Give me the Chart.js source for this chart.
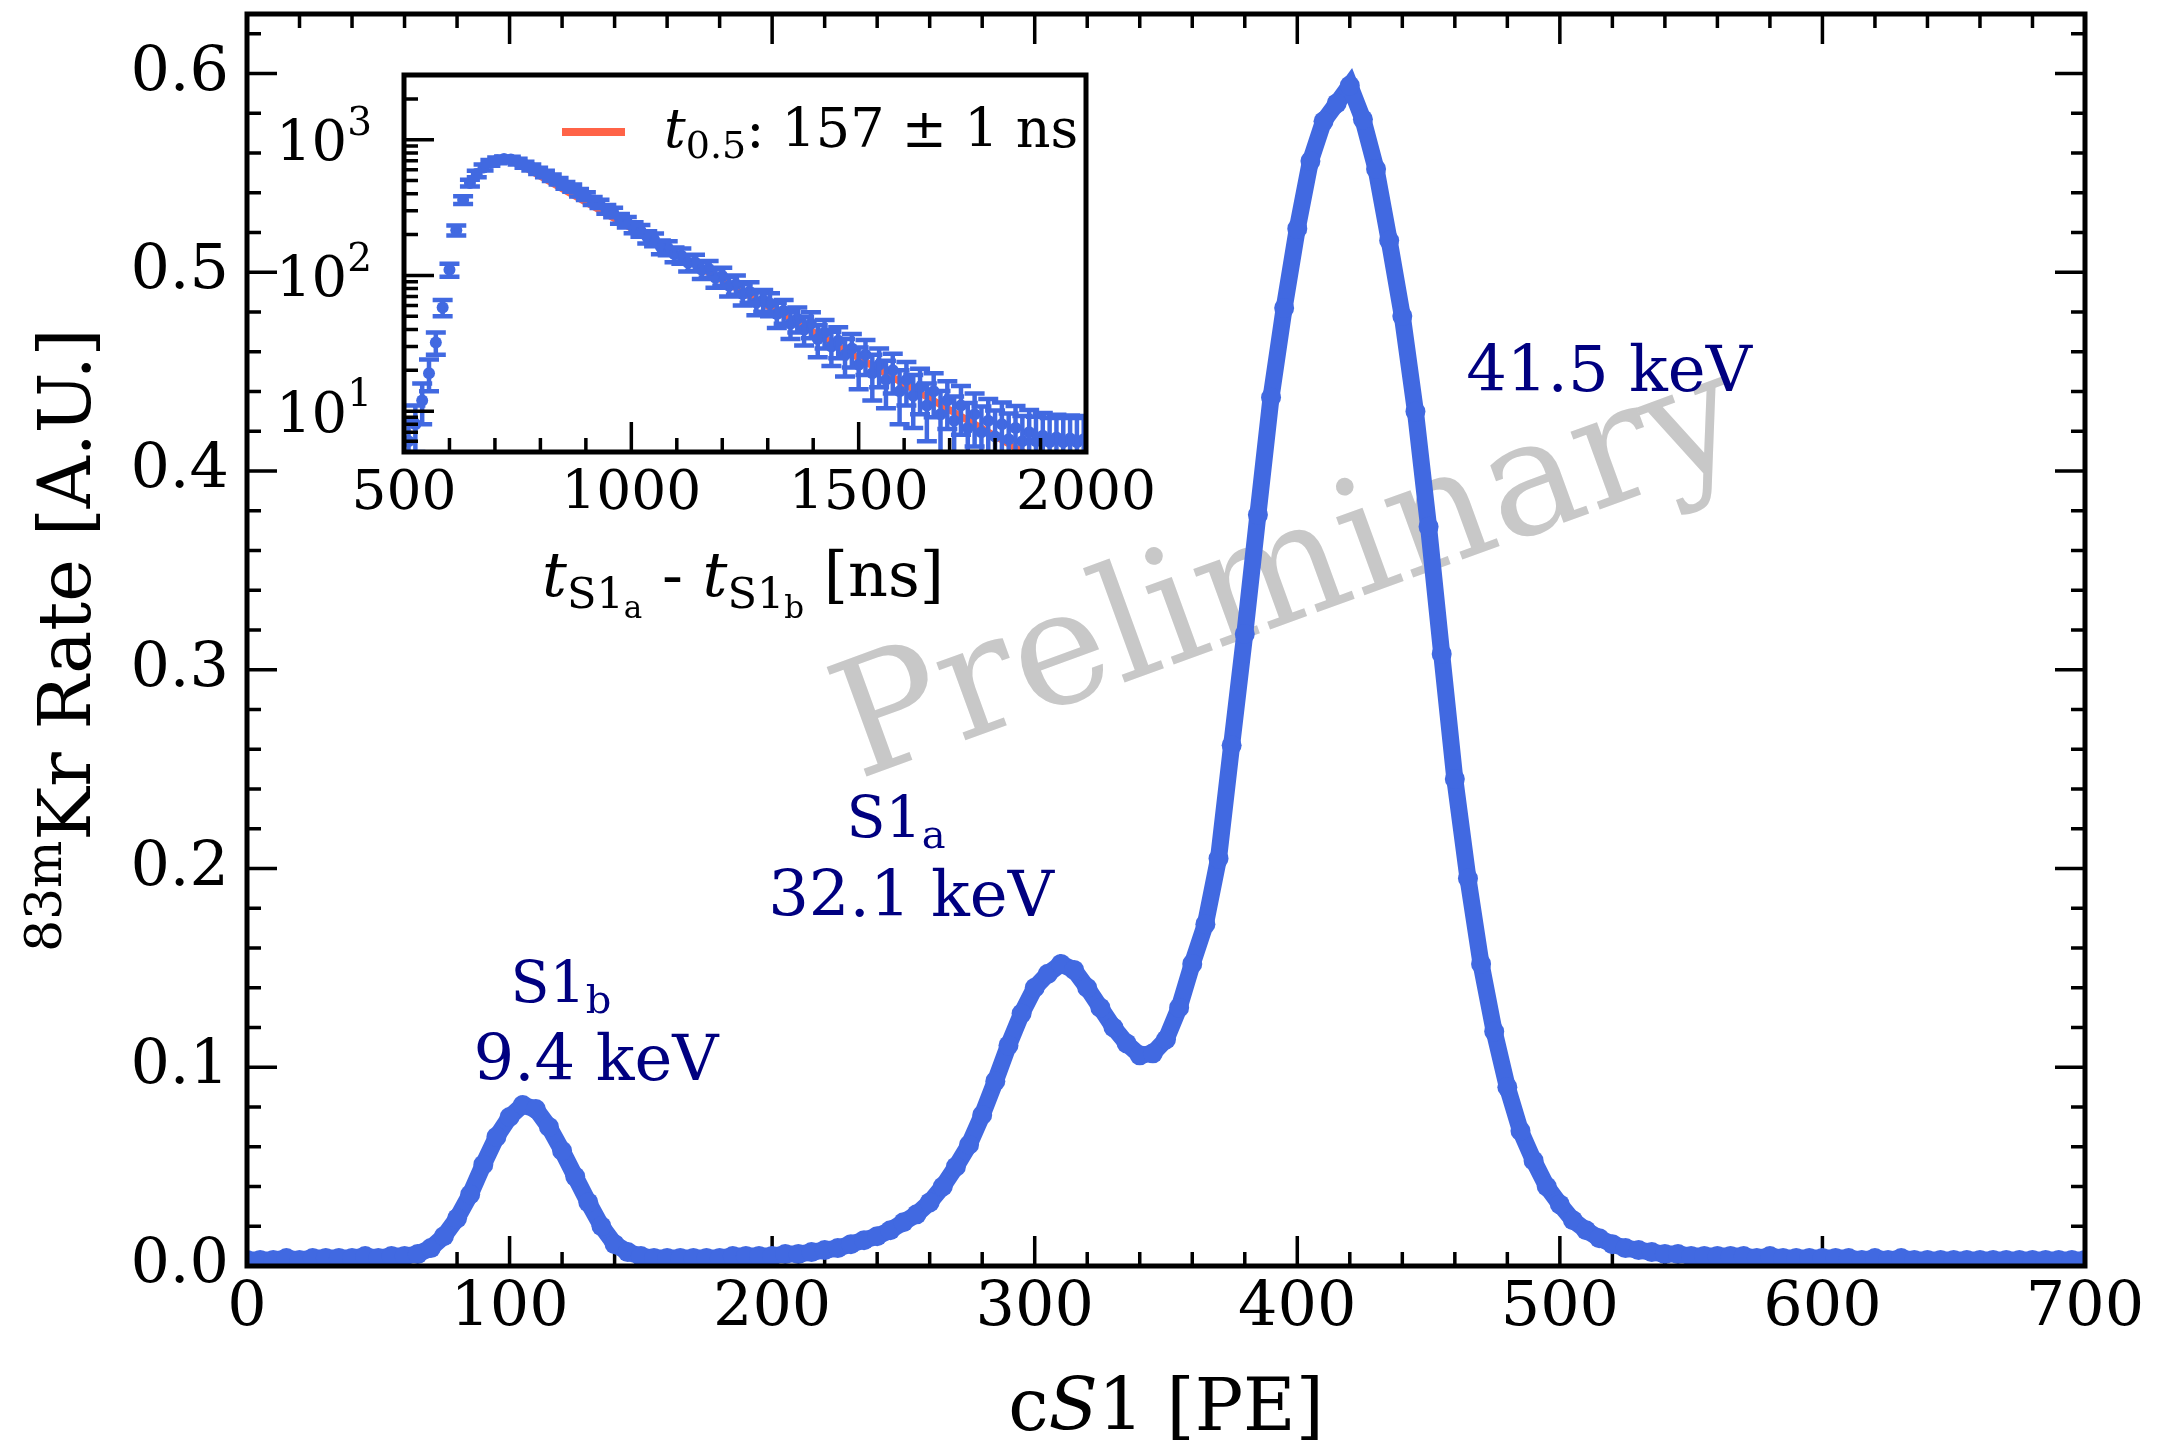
<!DOCTYPE html>
<html>
<head>
<meta charset="utf-8">
<script src="https://cdn.jsdelivr.net/npm/chart.js@4.4.1/dist/chart.umd.min.js"></script>
<style>
  html, body { margin: 0; padding: 0; background: #fff; }
  #wrap { position: relative; width: 2177px; height: 1454px; }
  #main { position: absolute; left: 0; top: 0; }
  #inset { position: absolute; left: 260px; top: 40px; }
</style>
</head>
<body>
<div id="wrap">
  <canvas id="main" width="2177" height="1454"></canvas>
  <canvas id="inset" width="940" height="600"></canvas>
</div>
<script>
// main spectrum: cS1 [PE] vs 83mKr rate [A.U.]
const cs1PE = [0,5,10,15,20,25,30,35,40,45,50,55,60,65,70,75,80,85,90,95,
  100,105,110,115,120,125,130,135,140,145,150,155,160,165,170,175,180,185,190,195,
  200,205,210,215,220,225,230,235,240,245,250,255,260,265,270,275,280,285,290,295,
  300,305,310,315,320,325,330,335,340,345,350,355,360,365,370,375,380,385,390,395,
  400,405,410,415,420,425,430,435,440,445,450,455,460,465,470,475,480,485,490,495,
  500,505,510,515,520,525,530,535,540,545,550,555,560,565,570,575,580,585,590,595,
  600,605,610,615,620,625,630,635,640,645,650,655,660,665,670,675,680,685,690,695,700];
const krRate = [0.003,0.003,0.003,0.004,0.003,0.004,0.004,0.004,0.004,0.005,0.004,0.005,0.005,0.006,0.009,0.015,0.024,0.036,0.051,0.065,
  0.075,0.081,0.079,0.070,0.058,0.045,0.032,0.020,0.011,0.007,0.005,0.004,0.004,0.004,0.004,0.004,0.004,0.005,0.005,0.005,
  0.005,0.006,0.006,0.007,0.008,0.009,0.011,0.013,0.015,0.018,0.022,0.026,0.032,0.040,0.050,0.061,0.076,0.093,0.111,0.127,
  0.140,0.147,0.152,0.149,0.140,0.130,0.120,0.112,0.106,0.107,0.114,0.130,0.152,0.172,0.205,0.262,0.318,0.378,0.437,0.482,
  0.522,0.556,0.576,0.585,0.594,0.577,0.552,0.516,0.478,0.430,0.372,0.308,0.245,0.195,0.152,0.118,0.090,0.068,0.053,0.040,
  0.031,0.023,0.018,0.014,0.011,0.009,0.008,0.007,0.006,0.006,0.005,0.005,0.005,0.005,0.005,0.004,0.005,0.004,0.004,0.004,
  0.004,0.004,0.004,0.003,0.004,0.003,0.004,0.003,0.003,0.003,0.003,0.003,0.003,0.003,0.003,0.003,0.003,0.003,0.003,0.003,0.003];

// inset: time difference between S1a and S1b
const dtNs = [510,525,540,555,570,585,600,615,630,645,660,675,690,705,720,735,750,765,780,795,
  810,825,840,855,870,885,900,915,930,945,960,975,990,1005,1020,1035,1050,1065,1080,1095,
  1110,1125,1140,1155,1170,1185,1200,1215,1230,1245,1260,1275,1290,1305,1320,1335,1350,1365,1380,1395,
  1410,1425,1440,1455,1470,1485,1500,1515,1530,1545,1560,1575,1590,1605,1620,1635,1650,1665,1680,1695,
  1710,1725,1740,1755,1770,1785,1800,1815,1830,1845,1860,1875,1890,1905,1920,1935,1950,1965,1980,1995];
const dtCounts = [6,8,12,19,32,58,110,215,360,480,560,625,675,705,720,715,690,655,625,590,
  560,525,495,462,440,408,385,355,338,308,292,262,248,226,214,192,184,162,160,143,
  140,124,125,110,112,96,99,84,86,73,76,63,66,62,52,55,44,48,40,44,
  34,38,30,33,26,29,22,26,19,22,17,20,14,17,13,15,11,14,9.5,12,
  8.5,11,7.5,9.5,7,8.5,6.5,8,6.2,7.5,6,7,6,6.6,5.9,6.4,5.9,6.3,5.9,6.2];
const dtErr = [2.5,3,4,5,6,8,12,18,24,28,30,32,33,34,34,34,33,33,32,31,
  30,29,28,27,27,26,25,24,24,23,23,22,22,21,21,20,20,19,19,18,
  18,17,17,16,16,15,15,14,14,13,13,12,12,12,11,11,10,10,9.5,9.5,
  9,9,8.5,8.5,8,8,7.5,7.5,7,7,6.5,6.5,6,6,5.5,5.5,5,5,4.6,4.6,
  4.3,4.3,4,4,3.8,3.8,3.6,3.6,3.4,3.4,3.2,3.2,3.1,3.1,3,3,3,3,3,3];
const fitNs = [760, 1000, 1250, 1500, 1750, 1880];
const fitCounts = [640, 223, 74, 24.7, 8.2, 4.6];

const blue = 'rgb(65,105,225)';
const red = 'rgb(255,99,71)';
const navy = '#000080';
const FONT = '"DejaVu Serif"';

function richText(ctx, parts, x, y, align, base) {
  // parts: [text, size factor, italic, vertical shift in em]
  const fontOf = p => (p[2] ? 'italic ' : '') + Math.round(base * p[1]) + 'px ' + FONT;
  let w = 0;
  parts.forEach(p => { ctx.font = fontOf(p); w += ctx.measureText(p[0]).width; });
  let cx = align === 'center' ? x - w / 2 : (align === 'right' ? x - w : x);
  ctx.textAlign = 'left';
  ctx.textBaseline = 'alphabetic';
  parts.forEach(p => {
    ctx.font = fontOf(p);
    ctx.fillText(p[0], cx, y + (p[3] || 0) * base);
    cx += ctx.measureText(p[0]).width;
  });
}

function tickList(from, to, step) {
  const out = [];
  for (let v = from; v <= to + step * 1e-6; v += step) out.push(+v.toFixed(6));
  return out;
}

function drawTicks(chart, spec) {
  const ctx = chart.ctx, a = chart.chartArea;
  const xs = chart.scales.x, ys = chart.scales.y;
  ctx.save();
  ctx.strokeStyle = '#000';
  ctx.lineWidth = 3.5;
  ctx.beginPath();
  spec.xTicks.forEach(([v, len]) => {
    const p = xs.getPixelForValue(v);
    if (p < a.left - 1 || p > a.right + 1) return;
    ctx.moveTo(p, a.bottom); ctx.lineTo(p, a.bottom - len);
    if (spec.top) { ctx.moveTo(p, a.top); ctx.lineTo(p, a.top + len); }
  });
  spec.yTicks.forEach(([v, len]) => {
    const p = ys.getPixelForValue(v);
    if (p < a.top - 1 || p > a.bottom + 1) return;
    ctx.moveTo(a.left, p); ctx.lineTo(a.left + len, p);
    if (spec.right) { ctx.moveTo(a.right, p); ctx.lineTo(a.right - len, p); }
  });
  ctx.stroke();
  ctx.restore();
}

function drawFrame(chart) {
  const ctx = chart.ctx, a = chart.chartArea;
  ctx.save();
  ctx.strokeStyle = '#000';
  ctx.lineWidth = 5;
  ctx.strokeRect(a.left, a.top, a.right - a.left, a.bottom - a.top);
  ctx.restore();
}

// keep the plot box where it is, no extra room for edge labels
function fixX(h) { return s => { s.height = h; s.paddingLeft = 0; s.paddingRight = 0; }; }
function fixY(w) { return s => { s.width = w; s.paddingTop = 0; s.paddingBottom = 0; }; }

const MAJ = 30, MIN = 14;

// ---------- main chart ----------
const mainTicks = {
  top: true, right: true,
  xTicks: tickList(0, 700, 20).map(v => [v, v % 100 === 0 ? MAJ : MIN]),
  yTicks: tickList(0, 0.62, 0.02).map(v => [v, Math.abs(v * 10 - Math.round(v * 10)) < 1e-6 ? MAJ : MIN])
};

const mainDecor = {
  id: 'mainDecor',
  beforeDraw(chart) {
    const ctx = chart.ctx;
    ctx.save();
    ctx.fillStyle = '#fff';
    ctx.fillRect(0, 0, chart.width, chart.height);
    ctx.restore();
  },
  beforeDatasetsDraw(chart) {
    const ctx = chart.ctx;
    drawTicks(chart, mainTicks);
    ctx.save();
    ctx.translate(1290, 578);
    ctx.rotate(-20 * Math.PI / 180);
    ctx.font = '160px ' + FONT;
    ctx.fillStyle = 'rgb(200,200,200)';
    ctx.textAlign = 'center';
    ctx.textBaseline = 'middle';
    ctx.fillText('Preliminary', 0, 0);
    ctx.restore();
  },
  afterDatasetsDraw(chart) {
    const ctx = chart.ctx;
    drawFrame(chart);
    ctx.save();
    ctx.fillStyle = '#000';
    richText(ctx, [['c', 1], ['S', 1, true], ['1 [PE]', 1]], 1166, 1430, 'center', 72);
    ctx.translate(90, 640);
    ctx.rotate(-Math.PI / 2);
    richText(ctx, [['83m', 0.7, false, -0.4], ['Kr Rate [A.U.]', 1]], 0, 0, 'center', 72);
    ctx.restore();

    ctx.save();
    ctx.fillStyle = navy;
    richText(ctx, [['S1', 1], ['b', 0.7, false, 0.2]], 561, 1002, 'center', 57);
    richText(ctx, [['9.4 keV', 1]], 596, 1080, 'center', 64);
    richText(ctx, [['S1', 1], ['a', 0.7, false, 0.2]], 896, 837, 'center', 57);
    richText(ctx, [['32.1 keV', 1]], 911, 916, 'center', 64);
    richText(ctx, [['41.5 keV', 1]], 1609, 391, 'center', 64);
    ctx.restore();
  }
};

new Chart(document.getElementById('main'), {
  type: 'line',
  data: {
    datasets: [{
      data: cs1PE.map((x, i) => ({ x: x, y: krRate[i] })),
      borderColor: blue,
      backgroundColor: blue,
      borderWidth: 17,
      pointRadius: 10,
      pointBorderWidth: 0,
      pointBackgroundColor: blue,
      tension: 0,
      clip: 0
    }]
  },
  options: {
    responsive: false,
    animation: false,
    events: [],
    layout: { padding: { left: 0, top: 14, right: 92, bottom: 0 } },
    plugins: { legend: { display: false }, tooltip: { enabled: false } },
    scales: {
      x: {
        type: 'linear', min: 0, max: 700,
        grid: { display: false, drawTicks: false },
        border: { display: false },
        ticks: { stepSize: 100, padding: 6, color: '#000', maxRotation: 0, includeBounds: false,
                 callback: v => String(v),
                 font: { family: 'DejaVu Serif', size: 62 } },
        afterFit: fixX(188)
      },
      y: {
        type: 'linear', min: 0, max: 0.63,
        grid: { display: false, drawTicks: false },
        border: { display: false },
        ticks: { stepSize: 0.1, padding: 18, color: '#000', includeBounds: false,
                 callback: v => v.toFixed(1),
                 font: { family: 'DejaVu Serif', size: 62 } },
        afterFit: fixY(247)
      }
    }
  },
  plugins: [mainDecor]
});

// ---------- inset ----------
const logMinor = [];
[1, 10, 100, 1000].forEach(d => [2,3,4,5,6,7,8,9].forEach(m => logMinor.push(m * d)));
const insetTicks = {
  top: false, right: false,
  xTicks: tickList(500, 2000, 100).map(v => [v, v % 500 === 0 ? MAJ : MIN]),
  yTicks: [[10, MAJ], [100, MAJ], [1000, MAJ]].concat(logMinor.filter(v => v >= 5 && v <= 3000).map(v => [v, MIN]))
};

const insetDecor = {
  id: 'insetDecor',
  beforeDraw(chart) {
    const ctx = chart.ctx, a = chart.chartArea;
    ctx.save();
    ctx.fillStyle = '#fff';
    ctx.fillRect(a.left, a.top, a.right - a.left, a.bottom - a.top);
    ctx.restore();
  },
  afterDatasetsDraw(chart) {
    const ctx = chart.ctx, a = chart.chartArea;
    const xs = chart.scales.x, ys = chart.scales.y;
    // error bars
    ctx.save();
    ctx.beginPath();
    ctx.rect(a.left, a.top, a.right - a.left, a.bottom - a.top);
    ctx.clip();
    ctx.strokeStyle = blue;
    ctx.lineWidth = 4.5;
    ctx.beginPath();
    dtNs.forEach((t, i) => {
      const px = xs.getPixelForValue(t);
      const lo = ys.getPixelForValue(Math.max(dtCounts[i] - dtErr[i], 0.5));
      const hi = ys.getPixelForValue(dtCounts[i] + dtErr[i]);
      ctx.moveTo(px, lo); ctx.lineTo(px, hi);
      ctx.moveTo(px - 10, lo); ctx.lineTo(px + 10, lo);
      ctx.moveTo(px - 10, hi); ctx.lineTo(px + 10, hi);
    });
    ctx.stroke();
    ctx.restore();

    drawTicks(chart, insetTicks);
    drawFrame(chart);

    ctx.save();
    ctx.fillStyle = '#000';
    [1, 2, 3].forEach(k => {
      const py = ys.getPixelForValue(Math.pow(10, k));
      richText(ctx, [['10', 1], [String(k), 0.7, false, -0.45]], 112, py + 0.365 * 56, 'right', 56);
    });
    richText(ctx, [['t', 1, true], ['S1', 0.7, false, 0.2], ['a', 0.5, false, 0.35], [' - ', 1],
                   ['t', 1, true], ['S1', 0.7, false, 0.2], ['b', 0.5, false, 0.35], [' [ns]', 1]],
             483, 556, 'center', 62);
    // legend
    ctx.strokeStyle = red;
    ctx.lineWidth = 8;
    ctx.beginPath();
    ctx.moveTo(302, 92); ctx.lineTo(365, 92);
    ctx.stroke();
    richText(ctx, [['t', 1, true], ['0.5', 0.7, false, 0.2], [': 157 \u00b1 1 ns', 1]], 404, 107, 'left', 54);
    ctx.restore();
  }
};

new Chart(document.getElementById('inset'), {
  type: 'line',
  data: {
    datasets: [{
      data: fitNs.map((x, i) => ({ x: x, y: fitCounts[i] })),
      borderColor: red,
      borderWidth: 7,
      pointRadius: 0,
      tension: 0,
      clip: 0,
      order: 1
    }, {
      data: dtNs.map((x, i) => ({ x: x, y: dtCounts[i] })),
      showLine: false,
      pointRadius: 6,
      pointBorderWidth: 0,
      pointBackgroundColor: blue,
      clip: 0,
      order: 0
    }]
  },
  options: {
    responsive: false,
    animation: false,
    events: [],
    layout: { padding: { left: 0, top: 35, right: 114, bottom: 0 } },
    plugins: { legend: { display: false }, tooltip: { enabled: false } },
    scales: {
      x: {
        type: 'linear', min: 500, max: 2000,
        grid: { display: false, drawTicks: false },
        border: { display: false },
        ticks: { stepSize: 500, padding: 10, color: '#000', maxRotation: 0, includeBounds: false,
                 callback: v => String(v),
                 font: { family: 'DejaVu Serif', size: 55 } },
        afterFit: fixX(188)
      },
      y: {
        type: 'logarithmic', min: 5, max: 3000,
        grid: { display: false, drawTicks: false },
        border: { display: false },
        ticks: { display: false },
        afterFit: fixY(144)
      }
    }
  },
  plugins: [insetDecor]
});
</script>
</body>
</html>
